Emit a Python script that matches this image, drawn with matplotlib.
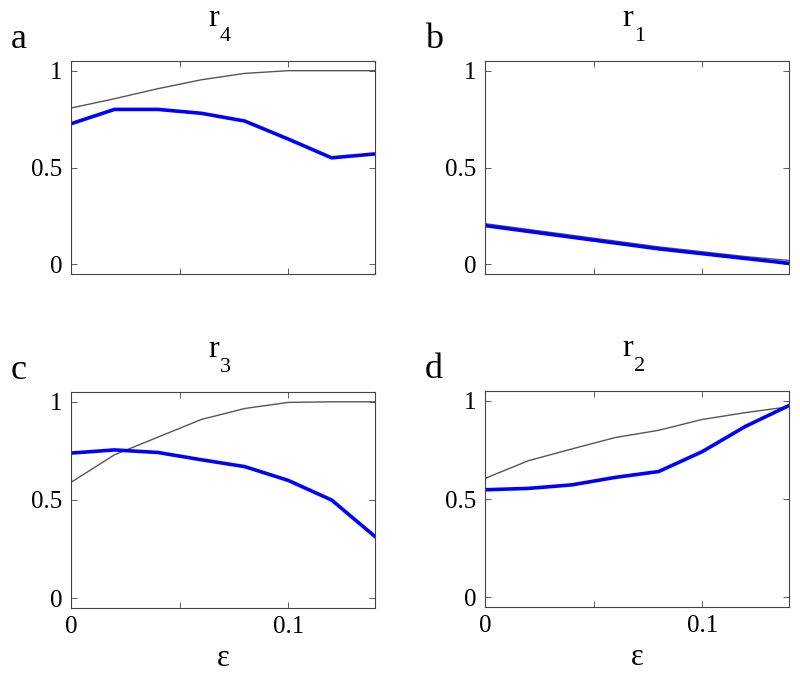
import matplotlib
matplotlib.use("Agg")
import matplotlib.pyplot as plt

plt.rcParams['font.family'] = ['Liberation Serif', 'DejaVu Serif']

eps = [0, 0.02, 0.04, 0.06, 0.08, 0.10, 0.12, 0.14]

r4_blue = [0.726, 0.80, 0.80, 0.78, 0.74, 0.647, 0.55, 0.57]
r4_gray = [0.807, 0.855, 0.907, 0.953, 0.986, 1.0, 1.0, 1.0]

r1_blue = [0.20, 0.17, 0.14, 0.11, 0.08, 0.055, 0.03, 0.005]
r1_gray = [0.21, 0.18, 0.15, 0.12, 0.09, 0.065, 0.04, 0.02]

r3_blue = [0.739, 0.755, 0.742, 0.705, 0.67, 0.60, 0.50, 0.314]
r3_gray = [0.59, 0.73, 0.82, 0.91, 0.966, 0.997, 1.0, 1.0]

r2_blue = [0.547, 0.554, 0.572, 0.61, 0.64, 0.741, 0.87, 0.976]
r2_gray = [0.605, 0.695, 0.755, 0.813, 0.85, 0.905, 0.94, 0.97]

panels = [
    ("a", "4", r4_blue, r4_gray, [71, 61, 304, 213], False),
    ("b", "1", r1_blue, r1_gray, [485, 61, 304, 213], False),
    ("c", "3", r3_blue, r3_gray, [71, 392, 304, 216], True),
    ("d", "2", r2_blue, r2_gray, [485, 391, 304, 216], True),
]

W, H = 800, 675
fig = plt.figure(figsize=(8, 6.75), dpi=100)

for letter, idx, blue, gray, (x0, y0, w, h), bottom in panels:
    ax = fig.add_axes([x0 / W, 1 - (y0 + h) / H, w / W, h / H])
    ax.plot(eps, gray, color='#555555', lw=1.0)
    ax.plot(eps, blue, color='#0000ff', lw=2.6)
    ax.set_xlim(0, 0.14)
    ax.set_ylim(-0.05, 1.05)
    ax.set_xticks([0, 0.05, 0.1])
    ax.set_yticks([0, 0.5, 1])
    ax.set_yticklabels(['0', '0.5', '1'])
    if bottom:
        ax.set_xticklabels(['0', '', '0.1'])
        ax.set_xlabel('ε', fontsize=22, labelpad=4)
    else:
        ax.set_xticklabels([])
    ax.tick_params(direction='in', top=True, right=True, length=4,
                   width=0.6, color='#444444', labelsize=18, pad=6)
    for s in ax.spines.values():
        s.set_color('#444444')
        s.set_linewidth(0.8)

    # title: "r" with a low subscript
    cx = x0 + w / 2
    fig.text((cx - 15) / W, 1 - (y0 - 35) / H, 'r', fontsize=23,
             ha='left', va='baseline')
    fig.text((cx - 3) / W, 1 - (y0 - 20) / H, idx, fontsize=16,
             ha='left', va='baseline')
    # panel letter
    fig.text((x0 - 60) / W, 1 - (y0 - 13) / H, letter, fontsize=26,
             ha='left', va='baseline')

fig.savefig("out.png", dpi=100)
